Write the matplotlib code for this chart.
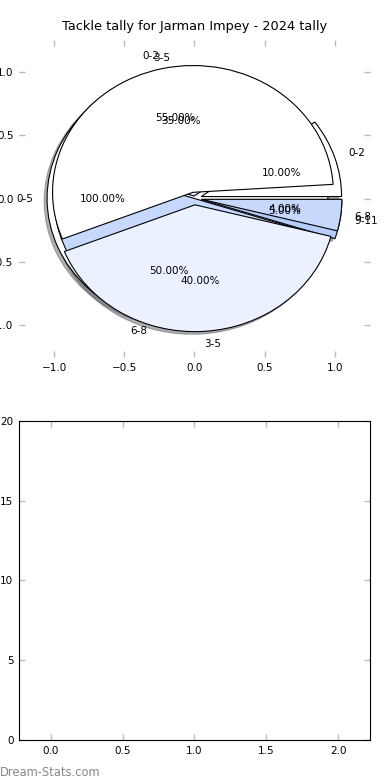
import matplotlib
matplotlib.use('Agg')
import matplotlib.pyplot as plt

# Data (fractions of games), three tallies drawn on the same axes
labels_a = ['0-5']
sizes_a = [1.0]
labels_b = ['0-2', '3-5', '6-8', '9-11']
sizes_b = [0.10, 0.35, 0.50, 0.05]
labels_c = ['0-2', '3-5', '6-8']
sizes_c = [0.55, 0.40, 0.04]

colors = ['#ffffff', '#ebf1fe', '#c6d9fd', '#b5cdfb']
pie_ticks = [-1.0, -0.5, 0.0, 0.5, 1.0]
bar_xticks = [0.0, 0.5, 1.0, 1.5, 2.0]
bar_yticks = [0, 5, 10, 15, 20]

plt.rcParams['font.size'] = 7.5

fig = plt.figure(figsize=(3.9, 7.8), dpi=100)
ax1 = fig.add_axes([0.0487, 0.5423, 0.9, 0.4064])
ax2 = fig.add_axes([0.0487, 0.0513, 0.9, 0.409])

shadow = {'ox': -0.015, 'oy': -0.015, 'shade': 0.6}
wp = {'edgecolor': 'black', 'linewidth': 0.8}

ax1.pie(sizes_a, labels=labels_a, colors=colors, autopct='%.2f%%',
        explode=[0.05], shadow=shadow, normalize=False, frame=False,
        wedgeprops=wp)
ax1.pie(sizes_b, labels=labels_b, colors=colors, autopct='%.2f%%',
        explode=[0.05, 0.02, 0.0, 0.05], shadow=shadow, normalize=False,
        frame=False, wedgeprops=wp)
# last tally does not add up to one, the missing slice sits at the start
ax1.pie(sizes_c, labels=labels_c, colors=colors, autopct='%.2f%%',
        explode=[0.05, 0.05, 0.05], shadow=shadow, normalize=False,
        frame=False, wedgeprops=wp,
        startangle=360 * (1 - sum(sizes_c)))
ax1.set_aspect('auto')
ax1.set_xlim(-1.25, 1.25)
ax1.set_ylim(-1.25, 1.25)
ax1.set_xticks(pie_ticks)
ax1.set_yticks(pie_ticks)
ax1.set_title('Tackle tally for Jarman Impey - 2024 tally', fontsize=9.3,
              pad=7)

ax2.set_xlim(-0.22, 2.22)
ax2.set_ylim(0, 20)
ax2.set_xticks(bar_xticks)
ax2.set_yticks(bar_yticks)

for ax in (ax1, ax2):
    ax.tick_params(direction='in', length=4, width=1, color='#bbbbbb',
                   top=True, right=True, labelsize=7.5, pad=4)

fig.text(0.0, 0.005, 'Dream-Stats.com', color='#888888', fontsize=8.3)

plt.savefig('out.png', dpi=100)
